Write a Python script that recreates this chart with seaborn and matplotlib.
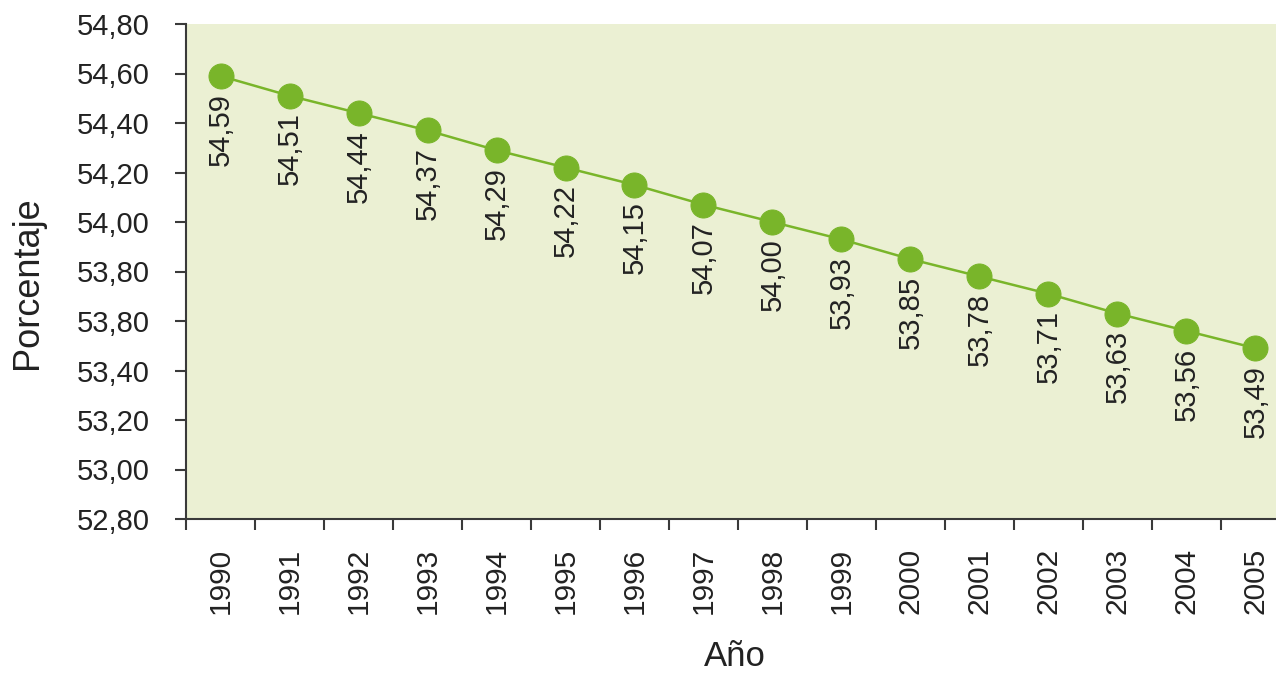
import matplotlib
matplotlib.use("Agg")
import matplotlib.pyplot as plt
import seaborn as sns
import pandas as pd
from matplotlib.ticker import FixedLocator

# ---- data ----
years = ["1990", "1991", "1992", "1993", "1994", "1995", "1996", "1997",
         "1998", "1999", "2000", "2001", "2002", "2003", "2004", "2005"]
values = [54.59, 54.51, 54.44, 54.37, 54.29, 54.22, 54.15, 54.07,
          54.00, 53.93, 53.85, 53.78, 53.71, 53.63, 53.56, 53.49]
value_labels = ["54,59", "54,51", "54,44", "54,37", "54,29", "54,22", "54,15", "54,07",
                "54,00", "53,93", "53,85", "53,78", "53,71", "53,63", "53,56", "53,49"]
y_ticks = [52.8, 53.0, 53.2, 53.4, 53.6, 53.8, 54.0, 54.2, 54.4, 54.6, 54.8]
y_tick_labels = ["52,80", "53,00", "53,20", "53,40", "53,80", "53,80",
                 "54,00", "54,20", "54,40", "54,60", "54,80"]
x_label = "Año"
y_label = "Porcentaje"

sns.set_style("ticks")
plt.rcParams["font.family"] = ["Liberation Sans", "DejaVu Sans"]

GREEN = "#79b52a"
BG = "#ebf0d3"
AXIS = "#3a3a3a"
TXT = "#222222"

fig = plt.figure(figsize=(12.76, 6.73), dpi=100)
ax = fig.add_axes([186 / 1276, 1 - 519 / 673, 1104 / 1276, 495 / 673])
ax.set_facecolor(BG)

df = pd.DataFrame({"pos": list(range(len(years))), "val": values})
sns.lineplot(data=df, x="pos", y="val", ax=ax, color=GREEN, linewidth=1.8,
             marker="o", markersize=18, markeredgecolor=GREEN,
             markerfacecolor=GREEN)

for i, (v, lab) in enumerate(zip(values, value_labels)):
    ax.annotate(lab, (i, v), xytext=(0, -12), textcoords="offset points",
                rotation=90, ha="center", va="top", fontsize=21, color=TXT)

ax.set_xlim(-0.5, len(years) - 0.5)
ax.set_ylim(52.8, 54.8)

ax.set_xticks(range(len(years)))
ax.set_xticklabels(years, rotation=90, fontsize=21.5, color=TXT)
ax.xaxis.set_minor_locator(FixedLocator([i - 0.5 for i in range(len(years) + 1)]))
ax.tick_params(axis="x", which="major", bottom=True, length=0, pad=21)
ax.tick_params(axis="x", which="minor", bottom=True, length=8, width=1.5,
               color=AXIS, direction="out")

ax.set_yticks(y_ticks)
ax.set_yticklabels(y_tick_labels, fontsize=21, color=TXT)
ax.tick_params(axis="y", which="major", left=True, length=8, width=1.5, color=AXIS,
               direction="out", pad=18)
ax.tick_params(axis="y", which="minor", left=False)

for s in ["top", "right"]:
    ax.spines[s].set_visible(False)
for s in ["left", "bottom"]:
    ax.spines[s].set_color(AXIS)
    ax.spines[s].set_linewidth(1.5)

ax.set_xlabel(x_label, fontsize=25, color=TXT)
ax.set_ylabel(y_label, fontsize=26, color=TXT)
ax.xaxis.set_label_coords(0.497, -0.245)
ax.yaxis.set_label_coords(-0.128, 0.477)

fig.savefig("out.png", dpi=100)
